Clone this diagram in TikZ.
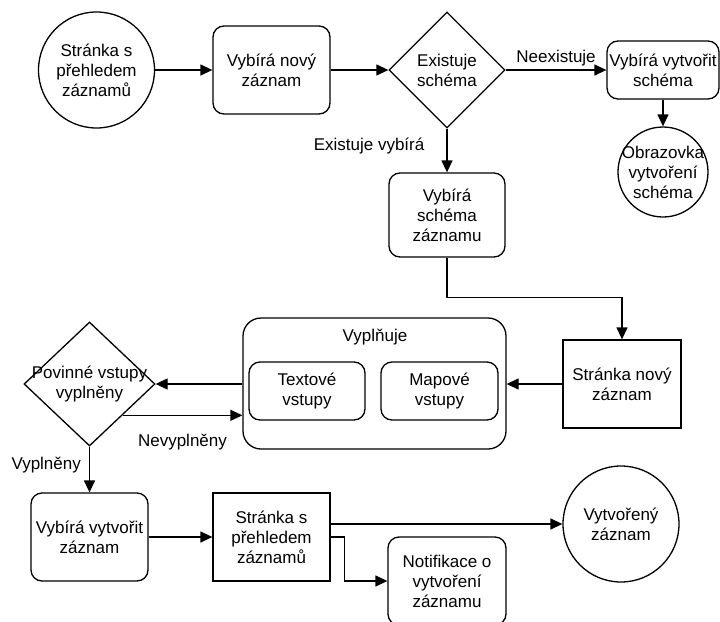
\documentclass[tikz,border=0pt]{standalone}
\usepackage{fontspec}
\setmainfont{Liberation Sans}
\usepackage{tikz}
\usetikzlibrary{shapes.geometric, arrows.meta, positioning}

\begin{document}
\begin{tikzpicture}[
    x=1pt, y=-1pt,
    font=\fontsize{17}{20}\selectfont,
    rbox/.style={rectangle, draw, rounded corners=11pt, align=center, inner sep=1pt, minimum width=117pt, minimum height=88pt},
    sbox/.style={rectangle, draw, align=center, inner sep=1pt, minimum width=117pt, minimum height=88pt},
    circ/.style={circle, draw, align=center, inner sep=0pt, minimum size=116pt},
    dec/.style={diamond, draw, align=center, inner sep=0pt},
    lbl/.style={inner sep=1pt, align=center},
    arr/.style={-{Triangle[length=12pt, width=11pt]}, line width=1.3pt},
    every node/.append style={line width=1.3pt}
]
\useasboundingbox (0,0) rectangle (720,621);
\node[circ] (start) at (96.5,70) {Stránka s\\přehledem\\záznamů};
\node[rbox] (novy) at (271.5,70) {Vybírá nový\\záznam};
\node[dec, minimum width=116pt, minimum height=116pt] (exist) at (447,70) {Existuje\\schéma};
\node[rbox, minimum width=112pt, minimum height=58pt] (vytschema) at (663,70) {Vybírá vytvořit\\schéma};
\node[circle, draw, minimum size=90pt, inner sep=0pt, label={[lbl]center:{Obrazovka\\vytvoření\\schéma}}] (obraz) at (663,172) {};
\node[rbox, minimum width=116pt, minimum height=84pt] (vybschema) at (447,215) {Vybírá\\schéma\\záznamu};
\node[sbox, minimum width=118pt] (strnovy) at (622,384) {Stránka nový\\záznam};
\node[rectangle, draw, rounded corners=18pt, minimum width=263pt, minimum height=131pt] (vypl) at (374.5,383.5) {};
\node[lbl] (vypltxt) at (375,337) {Vyplňuje};
\node[rbox, minimum width=116pt, minimum height=58pt] (textove) at (307,391) {Textové\\vstupy};
\node[rbox, minimum width=117pt, minimum height=58pt] (mapove) at (439.5,391) {Mapové\\vstupy};
\node[dec, minimum width=131pt, minimum height=124pt, label={[lbl]center:{Povinné vstupy\\vyplněny}}] (povinne) at (89.5,384) {};
\node[rbox] (vytzaznam) at (89.5,537) {Vybírá vytvořit\\záznam};
\node[sbox] (strprehled) at (271.5,537) {Stránka s\\přehledem\\záznamů};
\node[circ] (vytvoreny) at (621,524) {Vytvořený\\záznam};
\node[rbox, minimum width=118pt] (notif) at (447,581) {Notifikace o\\vytvoření\\záznamu};
\draw[arr] (start) -- (novy);
\draw[arr] (novy) -- (exist);
\draw[arr] (exist) -- node[lbl, above=2pt] (neex) {Neexistuje} (vytschema);
\draw[arr] (vytschema) -- (obraz);
\draw[arr] (exist) -- node[lbl, pos=0.4, left=21pt] (exvyb) {Existuje vybírá} (vybschema);
\draw[arr] (vybschema.south) -- ++(0,40) -| (strnovy.north);
\draw[arr] (strnovy) -- (strnovy.west -| vypl.east);
\draw[arr] (vypl.west |- povinne.east) -- (povinne.east);
\draw[arr] (povinne.south east) -- node[lbl, below=17pt] (nevypl) {Nevyplněny} (povinne.south east -| vypl.west);
\draw[arr] (povinne.south) -- node[lbl, pos=0.4, left=7pt] (vypln) {Vyplněny} (vytzaznam.north);
\draw[arr] (vytzaznam) -- (strprehled);
\draw[arr] (strprehled.east |- vytvoreny.west) -- (vytvoreny.west);
\draw[arr] (strprehled.east) -- ++(14,0) |- (notif.west);
\end{tikzpicture}
\end{document}
